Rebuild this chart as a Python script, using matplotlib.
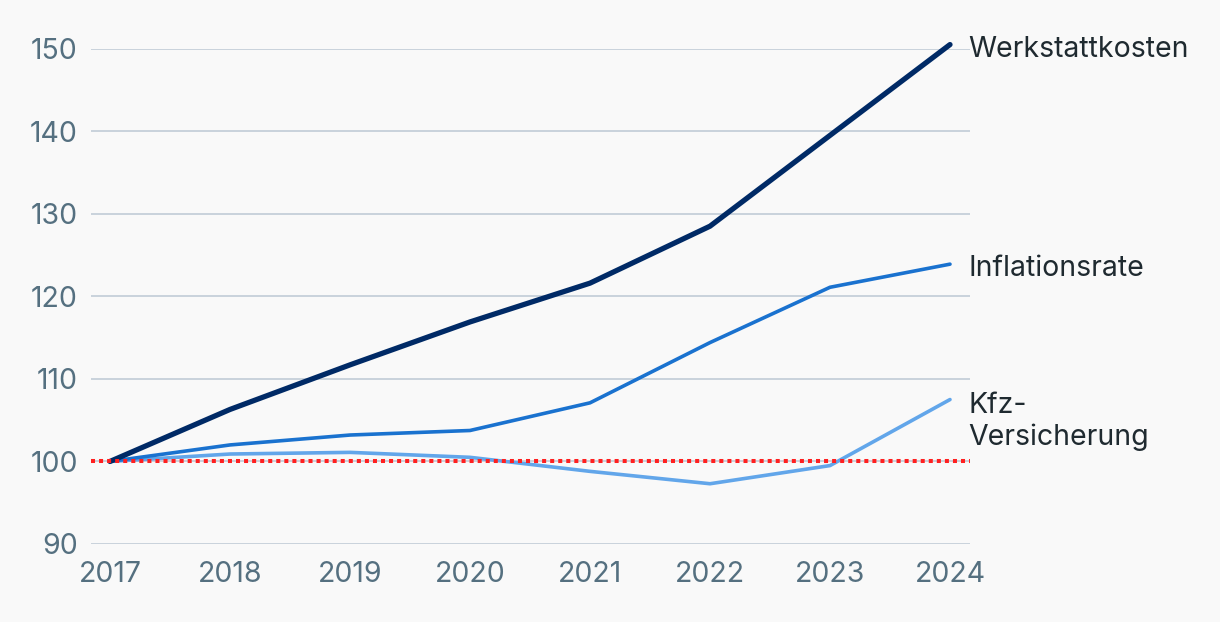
import matplotlib.pyplot as plt

years = [2017, 2018, 2019, 2020, 2021, 2022, 2023, 2024]
werkstatt = [100, 106.3, 111.7, 116.9, 121.6, 128.5, 139.5, 150.5]
inflation = [100, 102.0, 103.2, 103.75, 107.1, 114.4, 121.1, 123.9]
kfz = [100, 100.9, 101.1, 100.5, 98.8, 97.3, 99.5, 107.5]
yticks = [90, 100, 110, 120, 130, 140, 150]

bg = '#f9f9f9'
plt.rcParams['font.family'] = ['Inter', 'DejaVu Sans']

fig = plt.figure(figsize=(12.2, 6.22), dpi=100, facecolor=bg)
ax = fig.add_axes([91/1220, 1 - 544/622, 879/1220, (544 - 48.7)/622])
ax.set_facecolor(bg)

ax.set_xlim(2017 - 19/120, 2024 + 20/120)
ax.set_ylim(90, 150)
ax.set_yticks(yticks)
ax.set_xticks(years)
ax.grid(axis='y', color='#c5d0d9', lw=1.3)
ax.set_axisbelow(True)
for s in ax.spines.values():
    s.set_visible(False)
ax.tick_params(length=0, labelsize=20.5, colors='#557080')
ax.tick_params(axis='y', pad=9.5)
ax.tick_params(axis='x', pad=12)

# reference line at 100
ax.axhline(100, color='#ff2020', lw=2.9, ls=(0, (1, 1)), zorder=5)

ax.plot(years, kfz, color='#62a6ea', lw=2.6, solid_capstyle='round', clip_on=False, zorder=3)
ax.plot(years, inflation, color='#1a72cf', lw=2.6, solid_capstyle='round', clip_on=False, zorder=3)
ax.plot(years, werkstatt, color='#002a66', lw=3.8, solid_capstyle='round', clip_on=False, zorder=4)

lab = dict(fontsize=20.5, color='#1f2a30', va='center', ha='left', clip_on=False)
ax.text(2024 + 18/120, 149.9, 'Werkstattkosten', **lab)
ax.text(2024 + 18/120, 123.4, 'Inflationsrate', **lab)
ax.text(2024 + 18/120, 104.8, 'Kfz-\nVersicherung', linespacing=1.2, **lab)

fig.savefig('out.png', dpi=100, facecolor=bg)
